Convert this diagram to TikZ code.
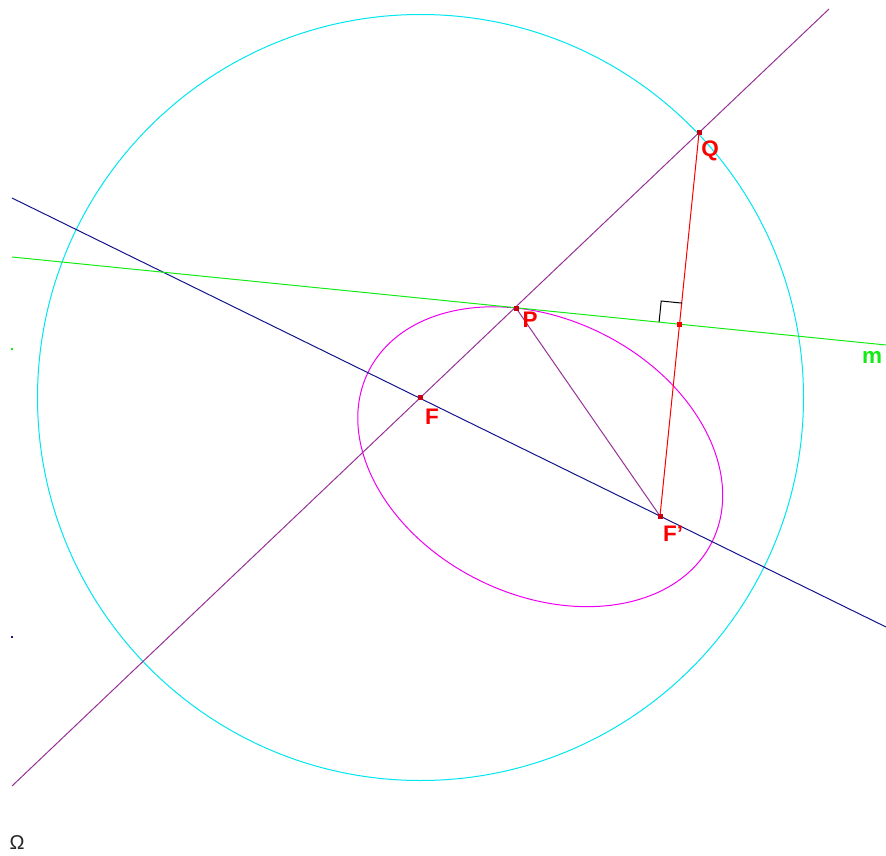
\documentclass[tikz,border=0pt]{standalone}
\usepackage{fontspec}
\setmainfont{Liberation Sans}
\definecolor{cyanc}{RGB}{0,230,240}
\definecolor{purp}{RGB}{150,50,150}
\definecolor{navy}{RGB}{20,20,140}
\definecolor{greenl}{RGB}{20,235,20}
\definecolor{magc}{RGB}{240,0,240}
\definecolor{redc}{RGB}{250,0,0}
\definecolor{dotc}{RGB}{200,0,20}
\begin{document}
\begin{tikzpicture}[x=1pt,y=-1pt,
  ln/.style={line width=1pt},
  dot/.style={fill=dotc,inner sep=0pt,minimum size=5pt,draw=none,rectangle},
  lbl/.style={text=redc,font=\bfseries\fontsize{22.5}{22.5}\selectfont,inner sep=0pt},
  tiny/.style={inner sep=0pt,minimum size=2.5pt,draw=none,rectangle}]
\useasboundingbox (0,0) rectangle (886,856);
% key points
\coordinate (F) at (420.5,397.5);
\coordinate (Fp) at (660,516);
\coordinate (P) at (516,308);
\coordinate (Q) at (699,133);
\coordinate (M) at (679.5,324.5);
\coordinate (E) at (540.25,456.75);
% line ends
\coordinate (pa) at (12,786);
\coordinate (pb) at (829,9);
\coordinate (ba) at (12,198);
\coordinate (bb) at (886,627);
\coordinate (ga) at (12,257);
\coordinate (gb) at (886,345);
% circle
\draw[ln,cyanc] (F) circle[radius=383pt];
% ellipse
\draw[ln,magc,rotate around={-26.3:(E)}] (E) ellipse[x radius=191.75pt,y radius=137.8pt];
% lines
\draw[ln,navy] (ba) -- (bb);
\draw[ln,greenl] (ga) -- (gb);
\draw[ln,purp] (pa) -- (pb);
\draw[ln,purp] (P) -- (Fp);
\draw[ln,redc] (Q) -- (Fp);
% right angle mark
\draw[line width=1pt,black] (682.1,303.1) -- (661.2,301) -- (659.1,321.9);
% dots
\node[dot] (dF) at (F) {};
\node[dot] (dFp) at (Fp) {};
\node[dot] (dP) at (P) {};
\node[dot] (dQ) at (Q) {};
\node[dot,fill=redc] (dM) at (M) {};
% labels
\node[lbl] (lQ) at (710,151) {Q};
\node[lbl] (lP) at (530,320) {P};
\node[lbl] (lF) at (432,417) {F};
\node[lbl] (lFp) at (673,534) {F'};
\node[text=greenl,font=\bfseries\fontsize{22.5}{22.5}\selectfont,inner sep=0pt] (lm) at (872,357) {m};
% small marks
\node[tiny,fill=greenl] (sg) at (12,349) {};
\node[tiny,fill=navy] (sb) at (12,637) {};
% Omega
\node[font=\fontsize{20}{20}\selectfont,text=black!85,inner sep=0pt] (om) at (17,843) {Ω};
\end{tikzpicture}
\end{document}
